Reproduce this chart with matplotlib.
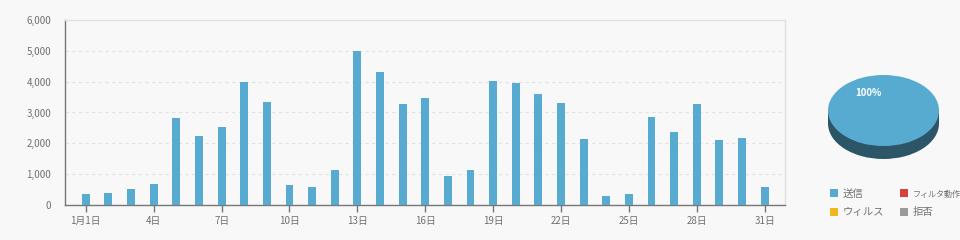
import matplotlib
matplotlib.use("Agg")
import matplotlib.pyplot as plt
from matplotlib.ticker import FuncFormatter
from matplotlib.patches import Rectangle

plt.rcParams['font.family'] = ['Noto Sans CJK JP', 'DejaVu Sans']

days = list(range(1, 32))
sent = [367, 400, 530, 690, 2830, 2250, 2540, 4000, 3350, 660, 595,
        1145, 5005, 4325, 3285, 3480, 950, 1145, 4030, 3965, 3610, 3320,
        2150, 300, 367, 2865, 2378, 3285, 2118, 2183, 595]
tick_days = [1, 4, 7, 10, 13, 16, 19, 22, 25, 28, 31]
tick_labels = ['1月1日', '4日', '7日', '10日', '13日', '16日', '19日', '22日', '25日', '28日', '31日']
y_ticks = [0, 1000, 2000, 3000, 4000, 5000, 6000]

pie_labels = ['送信', 'フィルタ動作', 'ウィルス', '拒否']
pie_values = [100, 0, 0, 0]
pie_colors = ['#58abd0', '#d94141', '#f0b820', '#999999']
side_color = '#2c5568'

bg = '#f8f8f8'
text_c = '#707070'

fig = plt.figure(figsize=(9.6, 2.4), dpi=100, facecolor=bg)
ax = fig.add_axes([65/960, 35/240, 720/960, 185/240], facecolor=bg)

ax.bar(days, sent, width=0.35, color=pie_colors[0], zorder=3)
ax.set_xlim(0.08, 31.9)
ax.set_ylim(0, 6000)
ax.set_yticks(y_ticks)
ax.yaxis.set_major_formatter(FuncFormatter(lambda v, p: f'{int(v):,}'))
ax.set_xticks(tick_days)
ax.set_xticklabels(tick_labels)
ax.tick_params(axis='y', length=0, pad=10, labelsize=7, labelcolor=text_c)
ax.tick_params(axis='x', length=5, width=1, color='#777777', pad=3, labelsize=7, labelcolor=text_c)
for yv in y_ticks[1:-1]:
    ax.axhline(yv, color='#e2e2e2', lw=0.8, ls=(0, (3, 3)), zorder=1)
for s in ['left', 'bottom']:
    ax.spines[s].set_color('#777777')
    ax.spines[s].set_linewidth(1)
for s in ['top', 'right']:
    ax.spines[s].set_color('#e0e0e0')
    ax.spines[s].set_linewidth(1)

# pseudo-3D pie
pax = fig.add_axes([828/960, (240-159)/240, 111/960, 84/240])
pax.set_facecolor('none')
depth = 0.366
pax.pie(pie_values, colors=[side_color]*4, center=(0, -depth), radius=1,
        startangle=-61, wedgeprops=dict(linewidth=0))
pax.add_patch(Rectangle((-1, -depth), 2, depth, color=side_color, lw=0))
wedges, _, autotexts = pax.pie(pie_values, colors=pie_colors, center=(0, 0), radius=1,
                               startangle=-61, autopct=lambda p: f'{p:.0f}%' if p > 1 else '',
                               pctdistance=0.55, wedgeprops=dict(linewidth=0),
                               textprops=dict(color='white', fontsize=7, fontweight='bold'))
pax.set_xlim(-1, 1)
pax.set_ylim(-1 - depth, 1)
pax.set_aspect('auto')
pax.axis('off')

order = [0, 2, 1, 3]  # row-wise: 送信, フィルタ動作 / ウィルス, 拒否
leg = fig.legend([wedges[i] for i in order], [pie_labels[i] for i in order],
                 loc='upper left', bbox_to_anchor=(830/960, 1 - 189/240),
                 ncol=2, frameon=False, fontsize=7.5, labelcolor=text_c,
                 handlelength=0.8, handleheight=0.8, handletextpad=0.4,
                 columnspacing=1.55, labelspacing=0.8, borderaxespad=0, borderpad=0)
for t in leg.get_texts():
    if t.get_text() == 'フィルタ動作':
        t.set_fontsize(5.8)

fig.savefig('out.png', dpi=100, facecolor=bg)
